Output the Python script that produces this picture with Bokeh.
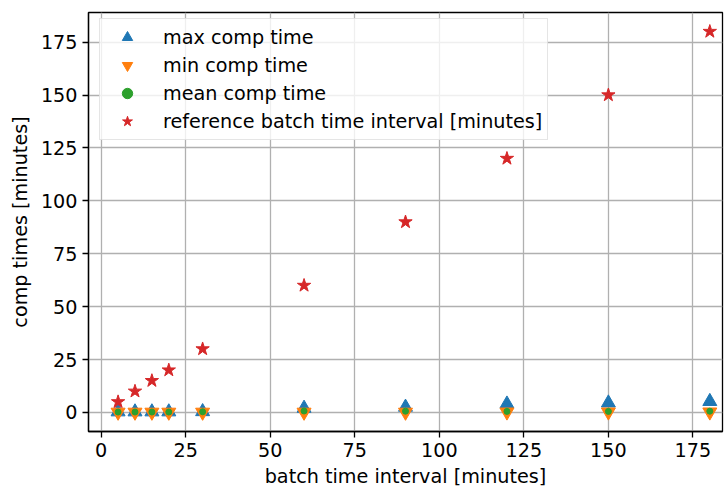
from bokeh.plotting import figure
from bokeh.models import Range1d, FixedTicker, Legend, LegendItem
from bokeh.embed import file_html
from bokeh.resources import INLINE

# data
batch_interval = [5, 10, 15, 20, 30, 60, 90, 120, 150, 180]
max_comp = [0.3, 0.3, 0.3, 0.3, 0.4, 2.0, 2.5, 4.0, 4.5, 5.2]
min_comp = [0.1, 0.1, 0.1, 0.1, 0.1, 0.1, 0.1, 0.2, 0.2, 0.2]
mean_comp = [0.2, 0.2, 0.2, 0.2, 0.3, 0.7, 0.6, 0.5, 0.5, 0.6]
reference = [5, 10, 15, 20, 30, 60, 90, 120, 150, 180]
x_ticks = [0, 25, 50, 75, 100, 125, 150, 175]
y_ticks = [0, 25, 50, 75, 100, 125, 150, 175]

FONT = "DejaVu Sans"
FS = "19.2px"

p = figure(width=726, height=490, output_backend="svg", toolbar_location=None,
           x_range=Range1d(-3.75, 183.75), y_range=Range1d(-9, 189),
           min_border_left=88, min_border_right=4, min_border_top=12, min_border_bottom=58)

p.outline_line_color = "black"
p.outline_line_width = 1.3
p.outline_line_alpha = 1.0

for ax in (p.xaxis[0], p.yaxis[0]):
    ax.axis_line_color = "black"
    ax.axis_line_width = 1.3
    ax.major_tick_line_color = "black"
    ax.major_tick_line_width = 1.3
    ax.major_tick_out = 6
    ax.major_tick_in = 0
    ax.minor_tick_line_color = None
    ax.major_label_text_font = FONT
    ax.major_label_text_font_size = FS
    ax.major_label_text_color = "black"
    ax.axis_label_text_font = FONT
    ax.axis_label_text_font_size = FS
    ax.axis_label_text_font_style = "normal"
    ax.axis_label_text_color = "black"
    ax.major_label_standoff = 5

p.xaxis[0].ticker = FixedTicker(ticks=x_ticks)
p.yaxis[0].ticker = FixedTicker(ticks=y_ticks)
p.xaxis[0].axis_label = "batch time interval [minutes]"
p.yaxis[0].axis_label = "comp times [minutes]"
p.xaxis[0].axis_label_standoff = 5
p.yaxis[0].axis_label_standoff = 6

for g in (p.xgrid[0], p.ygrid[0]):
    g.grid_line_color = "#b0b0b0"
    g.grid_line_width = 1.3

r_max = p.scatter(batch_interval, max_comp, marker="triangle", size=14,
                  fill_color="#1f77b4", line_color="#1f77b4", line_width=1)
r_min = p.scatter(batch_interval, min_comp, marker="inverted_triangle", size=14,
                  fill_color="#ff7f0e", line_color="#ff7f0e", line_width=1)
r_mean = p.scatter(batch_interval, mean_comp, marker="circle", size=6,
                   fill_color="#2ca02c", line_color="#2ca02c", line_width=1)
r_ref = p.scatter(batch_interval, reference, marker="star", size=14,
                  fill_color="#d62728", line_color="#d62728", line_width=1)

legend = Legend(items=[
    LegendItem(label="max comp time", renderers=[r_max]),
    LegendItem(label="min comp time", renderers=[r_min]),
    LegendItem(label="mean comp time", renderers=[r_mean]),
    LegendItem(label="reference batch time interval [minutes]", renderers=[r_ref]),
], location=(11, 291))
legend.label_text_font = FONT
legend.label_text_font_size = FS
legend.label_text_color = "black"
legend.glyph_width = 44
legend.glyph_height = 26
legend.label_height = 26
legend.label_standoff = 14
legend.spacing = 2
legend.padding = 5
legend.margin = 0
legend.border_line_color = "#cccccc"
legend.border_line_width = 1.3
legend.background_fill_alpha = 0.8
p.add_layout(legend, "center")

open("out.html", "w").write(file_html(p, INLINE))
